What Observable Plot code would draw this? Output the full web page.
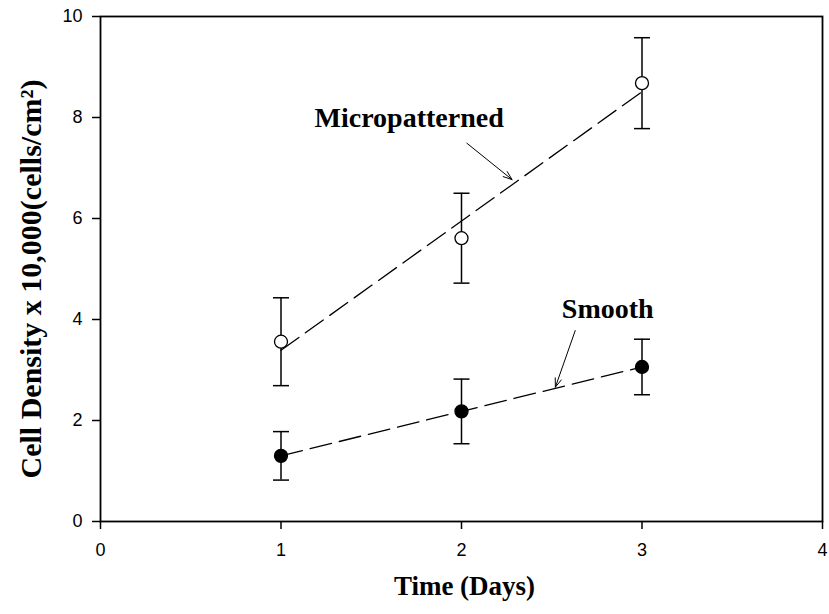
<!DOCTYPE html>
<html>
<head>
<meta charset="utf-8">
<script src="https://cdn.jsdelivr.net/npm/d3@7"></script>
<script src="https://cdn.jsdelivr.net/npm/@observablehq/plot@0.6"></script>
<style>
  body { margin: 0; background: #fff; }
  #chart svg { display: block; }
  #chart svg g[aria-label$="tick label"] { font-size: 18px !important; }
</style>
</head>
<body>
<div id="chart"></div>
<script>
// Cell density (x 10,000 cells/cm²) over three days, mean ± SD
const days = [1, 2, 3];
const micropatternedMean = [3.56, 5.61, 8.68];
const micropatternedSD = [0.87, 0.89, 0.90];
const smoothMean = [1.30, 2.18, 3.06];
const smoothSD = [0.48, 0.64, 0.55];

// Axis ticks and titles
const xTicks = [0, 1, 2, 3, 4];
const yTicks = [0, 2, 4, 6, 8, 10];
const xTitle = "Time (Days)";
const yTitle = "Cell Density x 10,000(cells/cm²)";

// Series labels with arrows pointing at the fitted lines (data units)
const labelNames = ["Micropatterned", "Smooth"];
const labelX = [1.71, 2.81];
const labelY = [7.98, 4.21];
const arrowX1 = [2.03, 2.63];
const arrowY1 = [7.49, 3.78];
const arrowX2 = [2.28, 2.52];
const arrowY2 = [6.77, 2.66];

const rows = days.flatMap((day, i) => [
  {series: "Micropatterned", day, mean: micropatternedMean[i], sd: micropatternedSD[i], fill: "white"},
  {series: "Smooth", day, mean: smoothMean[i], sd: smoothSD[i], fill: "black"}
]);

const notes = labelNames.map((name, i) => ({
  name, x: labelX[i], y: labelY[i],
  x1: arrowX1[i], y1: arrowY1[i], x2: arrowX2[i], y2: arrowY2[i]
}));

// Horizontal cap for error bars, fixed width in pixels
const cap = {
  draw(context) {
    context.moveTo(-8, 0);
    context.lineTo(8, 0);
  }
};

const serif = "'Liberation Serif', 'Times New Roman', serif";

const chart = Plot.plot({
  width: 829,
  height: 614,
  marginLeft: 100,
  marginRight: 7,
  marginTop: 16,
  marginBottom: 93,
  style: {fontFamily: "'Liberation Sans', Arial, sans-serif", fontSize: "18px", color: "black", background: "white", overflow: "visible"},
  x: {domain: [0, 4]},
  y: {domain: [0, 10]},
  color: {type: "identity"},
  marks: [
    Plot.axisX({ticks: xTicks, tickSize: 8, tickPadding: 14, strokeWidth: 1.5, fontSize: 18, label: null, tickFormat: d => String(d)}),
    Plot.axisY({ticks: yTicks, tickSize: 8, tickPadding: 10, strokeWidth: 1.5, fontSize: 18, label: null, tickFormat: d => String(d)}),
    Plot.linearRegressionY(rows, {x: "day", y: "mean", z: "series", ci: 0, stroke: "black", strokeWidth: 1.3, strokeDasharray: "22,8"}),
    Plot.ruleX(rows, {x: "day", y1: d => d.mean - d.sd, y2: d => d.mean + d.sd, stroke: "black", strokeWidth: 1.5}),
    Plot.dot(rows, {x: "day", y: d => d.mean + d.sd, symbol: cap, stroke: "black", strokeWidth: 1.5}),
    Plot.dot(rows, {x: "day", y: d => d.mean - d.sd, symbol: cap, stroke: "black", strokeWidth: 1.5}),
    Plot.dot(rows, {x: "day", y: "mean", r: 6.5, fill: "fill", stroke: "black", strokeWidth: 1.3}),
    Plot.arrow(notes, {x1: "x1", y1: "y1", x2: "x2", y2: "y2", stroke: "black", strokeWidth: 1, headLength: 14, headAngle: 40}),
    Plot.text(notes, {x: "x", y: "y", text: "name", fontFamily: serif, fontWeight: "bold", fontSize: 28, fill: "black"}),
    Plot.text([xTitle], {frameAnchor: "bottom", textAnchor: "middle", lineAnchor: "middle", dy: 65, dx: 3, fontFamily: serif, fontWeight: "bold", fontSize: 27, fill: "black"}),
    Plot.text([yTitle], {frameAnchor: "left", textAnchor: "middle", lineAnchor: "middle", rotate: -90, dx: -69, dy: 10, fontFamily: serif, fontWeight: "bold", fontSize: 30, fill: "black"}),
    Plot.frame({stroke: "black", strokeWidth: 1.8})
  ]
});

document.getElementById("chart").appendChild(chart);
</script>
</body>
</html>
